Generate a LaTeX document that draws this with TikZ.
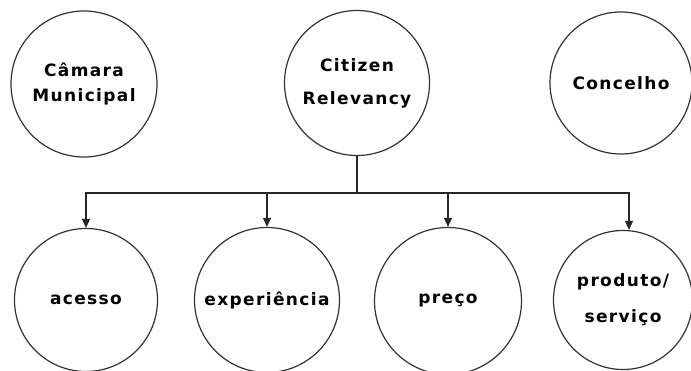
\documentclass[tikz,border=0pt]{standalone}
\usepackage{fontspec}
\newfontfamily\lbl{DejaVu Sans}[LetterSpace=8]
\usetikzlibrary{arrows.meta}
\begin{document}
\begin{tikzpicture}[x=1pt,y=-1pt,
  bub/.style={circle,draw=black!80,line width=1.2pt,inner sep=0pt,align=center,
    font=\lbl\bfseries\fontsize{17}{25}\selectfont},
  conn/.style={draw=black!85,line width=1.3pt},
  arr/.style={conn,-{Triangle[width=8pt,length=9pt]}}]
\useasboundingbox (0,0) rectangle (691,371);
\node[bub,minimum size=146pt] (cam) at (84,84) {Câmara\\Municipal};
\node[bub,minimum size=145pt] (cit) at (357,83) {Citizen\\[8pt]Relevancy};
\node[bub,minimum size=142pt] (con) at (621,83) {Concelho};
\node[bub,minimum size=143pt] (acc) at (86,300) {acesso};
\node[bub,minimum size=145pt] (exp) at (267,300) {experiência};
\node[bub,minimum size=147pt] (pre) at (448,301) {preço};
\node[bub,minimum size=139pt] (pro) at (623,300) {produto/\\[11pt]serviço};
\coordinate (bus) at (357,193);
\draw[conn] (cit.south) -- (bus);
\draw[arr] (bus) -| (acc.north);
\draw[arr] (bus) -| (exp.north);
\draw[arr] (bus) -| (pre.north);
\draw[arr] (bus) -| ([xshift=6pt]pro.north);
\end{tikzpicture}
\end{document}
